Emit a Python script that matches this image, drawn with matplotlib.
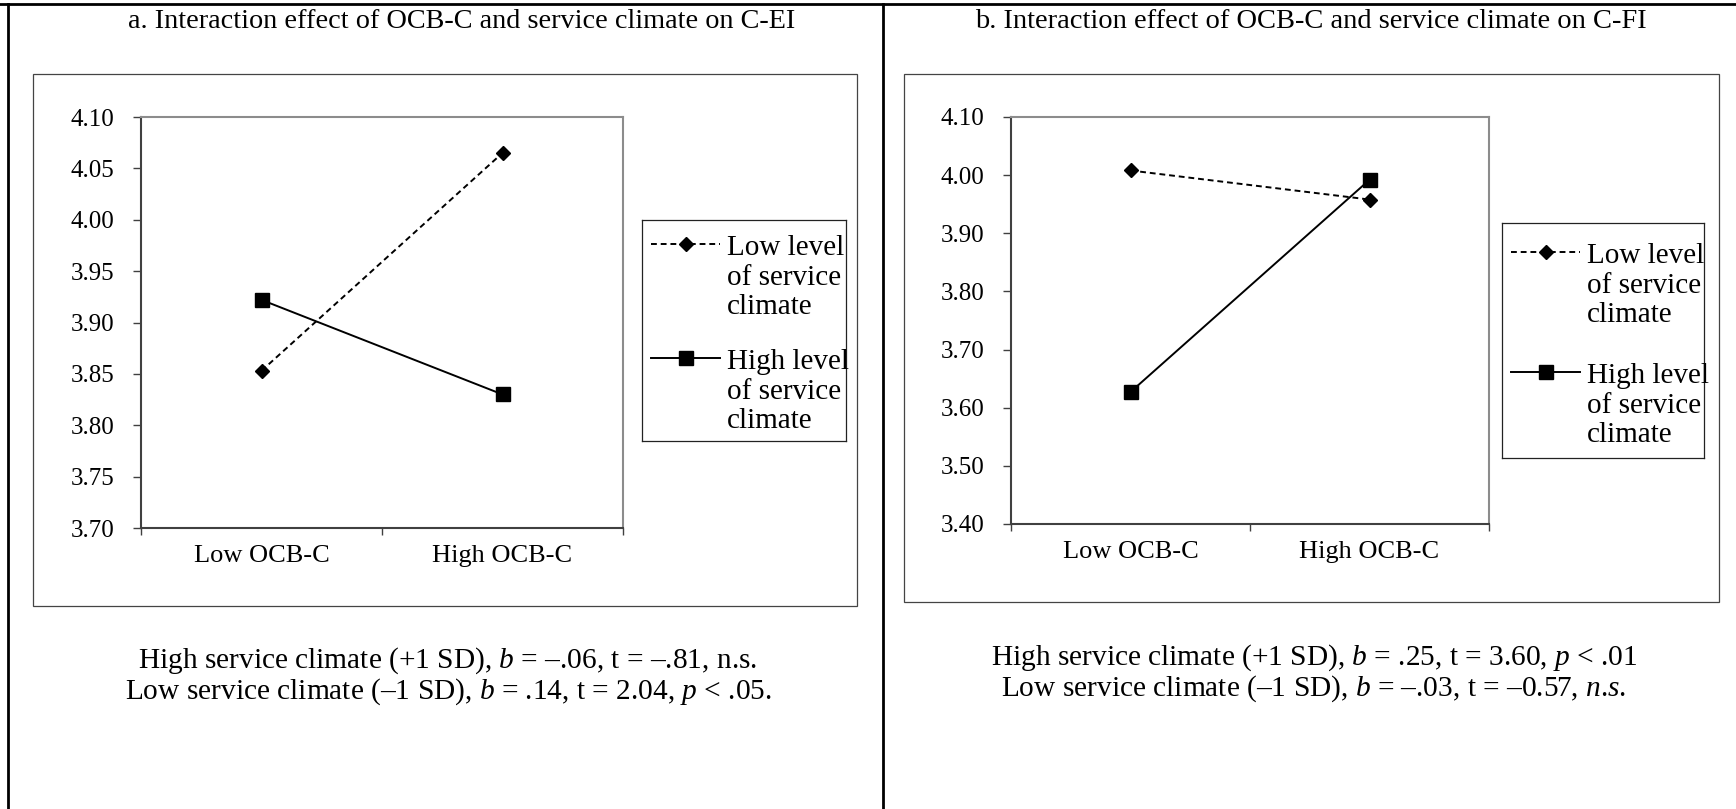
import matplotlib
matplotlib.use("Agg")
import matplotlib.pyplot as plt
from matplotlib.patches import Rectangle
from matplotlib.lines import Line2D

plt.rcParams["font.family"] = ["Liberation Serif", "DejaVu Serif"]
plt.rcParams["mathtext.fontset"] = "custom"
plt.rcParams["mathtext.rm"] = "Liberation Serif"
plt.rcParams["mathtext.it"] = "Liberation Serif:italic"

W, H = 1736, 809

categories = ["Low OCB-C", "High OCB-C"]
series_names = ["Low level\nof service\nclimate", "High level\nof service\nclimate"]

# panel a: C-EI
cei_low_climate = [3.853, 4.065]
cei_high_climate = [3.922, 3.830]
cei_ticks = [3.70, 3.75, 3.80, 3.85, 3.90, 3.95, 4.00, 4.05, 4.10]

# panel b: C-FI
cfi_low_climate = [4.008, 3.958]
cfi_high_climate = [3.627, 3.992]
cfi_ticks = [3.40, 3.50, 3.60, 3.70, 3.80, 3.90, 4.00, 4.10]

titles = ["a. Interaction effect of OCB-C and service climate on C-EI",
          "b. Interaction effect of OCB-C and service climate on C-FI"]
notes_a = ["High service climate (+1 SD), $b$ = –.06, t = –.81, n.s.",
           "Low service climate (–1 SD), $b$ = .14, t = 2.04, $p$ < .05."]
notes_b = ["High service climate (+1 SD), $b$ = .25, t = 3.60, $p$ < .01",
           "Low service climate (–1 SD), $b$ = –.03, t = –0.57, $n$.$s$."]


def px_rect(x0, y0, x1, y1):
    """Pixel box (top-left origin) to figure fraction rect."""
    return [x0 / W, 1 - y1 / H, (x1 - x0) / W, (y1 - y0) / H]


def fx(x):
    return x / W


def fy(y):
    return 1 - y / H


def draw_panel(fig, plot_box, chart_box, legend_box, low, high, ticks, handle_ys):
    fig.patches.append(Rectangle((fx(chart_box[0]), fy(chart_box[3])),
                                 (chart_box[2] - chart_box[0]) / W,
                                 (chart_box[3] - chart_box[1]) / H,
                                 transform=fig.transFigure, fill=False,
                                 edgecolor="#444444", linewidth=0.9))

    ax = fig.add_axes(px_rect(*plot_box))
    x = [0, 1]
    ax.plot(x, low, color="black", linewidth=1.4, dashes=(3, 2),
            marker="D", markersize=7, markerfacecolor="black", zorder=3, clip_on=False)
    ax.plot(x, high, color="black", linewidth=1.4, marker="s", markersize=10.5,
            markerfacecolor="black", zorder=3, clip_on=False)
    ax.set_xlim(-0.5, 1.5)
    ax.set_ylim(ticks[0], ticks[-1])
    ax.set_yticks(ticks)
    ax.set_yticklabels([f"{t:.2f}" for t in ticks], fontsize=18)
    ax.set_xticks([-0.5, 0.5, 1.5])
    ax.set_xticklabels([])
    ax.set_xticks(x, minor=True)
    ax.set_xticklabels(categories, minor=True, fontsize=19)
    ax.tick_params(axis="x", which="minor", length=0, pad=12)
    ax.tick_params(axis="x", which="major", length=5, width=1, color="#404040", direction="out")
    ax.tick_params(axis="y", length=6, width=1, color="#404040", direction="out", pad=13)
    for side in ["left", "bottom"]:
        ax.spines[side].set_color("#404040")
        ax.spines[side].set_linewidth(1.5)
    for side in ["top", "right"]:
        ax.spines[side].set_color("#8c8c8c")
        ax.spines[side].set_linewidth(1.5)

    # legend drawn in its own pixel-scaled axes
    lx0, ly0, lx1, ly1 = legend_box
    lg = fig.add_axes(px_rect(*legend_box))
    lg.set_xlim(0, lx1 - lx0)
    lg.set_ylim(ly1 - ly0, 0)
    lg.set_xticks([])
    lg.set_yticks([])
    for s in lg.spines.values():
        s.set_color("#222222")
        s.set_linewidth(0.9)
    styles = [dict(dashes=(3, 2), marker="D", markersize=7),
              dict(marker="s", markersize=10.5)]
    for name, style, hy in zip(series_names, styles, handle_ys):
        lg.add_line(Line2D([9, 43.5, 78], [hy, hy, hy], color="black", linewidth=1.4,
                           markevery=[1], **style))
        lg.text(85, hy - 9, name, fontsize=21, va="top", ha="left", linespacing=1.18)
    return ax


fig = plt.figure(figsize=(W / 100, H / 100), dpi=100)

# table rules
fig.add_artist(Line2D([fx(0), fx(W)], [fy(4), fy(4)], color="black", linewidth=2))
fig.add_artist(Line2D([fx(8), fx(8)], [fy(4), fy(H)], color="black", linewidth=2))
fig.add_artist(Line2D([fx(883), fx(883)], [fy(4), fy(H)], color="black", linewidth=2))

fig.text(fx(462), fy(22), titles[0], fontsize=20.3, ha="center", va="center")
fig.text(fx(1311), fy(22), titles[1], fontsize=20.5, ha="center", va="center")

draw_panel(fig, (141, 117, 623, 528), (33, 74, 857, 606), (642, 220, 846, 441),
           cei_low_climate, cei_high_climate, cei_ticks, [24, 138])
draw_panel(fig, (1011, 117, 1489, 524), (904, 74, 1719, 602), (1502, 223, 1704, 458),
           cfi_low_climate, cfi_high_climate, cfi_ticks, [29, 149])

for note, y in zip(notes_a, [661, 692]):
    fig.text(fx(448), fy(y), note, fontsize=21.2, ha="center", va="center")
for note, y in zip(notes_b, [658, 689]):
    fig.text(fx(1314), fy(y), note, fontsize=21.2, ha="center", va="center")

fig.savefig("out.png", dpi=100)
